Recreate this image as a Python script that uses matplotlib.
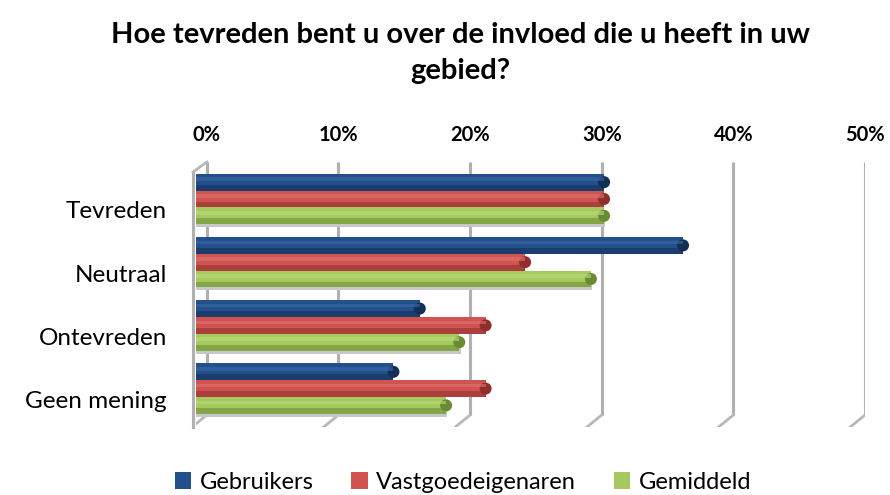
import matplotlib
matplotlib.use("Agg")
import matplotlib.pyplot as plt
from matplotlib.patches import Patch
import numpy as np

categories = ["Tevreden", "Neutraal", "Ontevreden", "Geen mening"]
series_names = ["Gebruikers", "Vastgoedeigenaren", "Gemiddeld"]
gebruikers = [31, 37, 17, 15]
vastgoedeigenaren = [31, 25, 22, 22]
gemiddeld = [31, 30, 20, 19]
tick_values = [0, 10, 20, 30, 40, 50]
tick_labels = ["0%", "10%", "20%", "30%", "40%", "50%"]
title = "Hoe tevreden bent u over de invloed die u heeft in uw\ngebied?"

colors = ["#23508C", "#D0534F", "#A5C95E"]
dark = ["#142f55", "#8e2f2c", "#6a8a34"]
light = ["#3a68a6", "#e07470", "#bcdc7c"]

FONT = "Lato"
W, H = 890, 495
fig = plt.figure(figsize=(W / 100, H / 100), dpi=100)

# pixel geometry
x0_px, x50_px = 196, 865
top_px, bot_px = 162, 427
c0_px, step_px = 199, 63.2
ax = fig.add_axes([x0_px / W, 1 - bot_px / H, (x50_px - x0_px) / W, (bot_px - top_px) / H])
ax.set_xlim(0, 50)
ylo = -(c0_px - top_px) / step_px
yhi = 3 + (bot_px - (c0_px + 3 * step_px)) / step_px
ax.set_ylim(yhi, ylo)
for s in ax.spines.values():
    s.set_visible(False)

px_x = 50 / (x50_px - x0_px)
px_y = 1 / step_px
depth = 11 * px_x

# back gridlines with floor foot
g_bot = 3 + (415 - (c0_px + 3 * step_px)) / step_px
for v in tick_values:
    xb = v + depth
    ax.plot([xb, xb], [ylo, g_bot], color="#b0b0b0", lw=2.2, solid_capstyle="butt", zorder=1)
    ax.plot([xb, xb - 15 * px_x], [g_bot, g_bot + 12 * px_y], color="#b8b8b8", lw=2.0, zorder=1)
# left wall
wx = -3 * px_x
ax.plot([wx, wx], [ylo + 10 * px_y, yhi], color="#b0b0b0", lw=2.2, zorder=1, clip_on=False)
ax.plot([wx, depth], [ylo + 10 * px_y, ylo], color="#b8b8b8", lw=2.0, zorder=1, clip_on=False)

# bars
bh = 16.8 * px_y
ypos = np.arange(len(categories))
offsets = [-bh, 0, bh]
for k, vals in enumerate([gebruikers, vastgoedeigenaren, gemiddeld]):
    yy = ypos + offsets[k]
    if k == 2:
        ax.barh(yy + 3 * px_y, np.array(vals) + 0.1, height=bh, left=0.0, color="#c8c8c8", zorder=2)
    ax.barh(yy, vals, height=bh, color=colors[k], zorder=3, edgecolor="none")
    ax.barh(yy + bh * 0.33, vals, height=bh * 0.34, color=dark[k], alpha=0.55, zorder=4, edgecolor="none")
    ax.barh(yy - bh * 0.18, vals, height=bh * 0.22, color=light[k], alpha=0.6, zorder=4, edgecolor="none")
    ax.scatter(vals, yy, s=75, marker="o", color=dark[k], zorder=3.5, edgecolors="none")

# ticks
ax.xaxis.tick_top()
ax.set_xticks([v + depth for v in tick_values])
ax.set_xticklabels(tick_labels, fontsize=14.5, fontweight="bold", family=FONT)
ax.tick_params(axis="x", length=0, pad=12)
ax.set_yticks(ypos + 11 * px_y)
ax.set_yticklabels(categories, fontsize=17.5, family=FONT)
ax.tick_params(axis="y", length=0, pad=21)

fig.text(0.517, 0.955, title, ha="center", va="top", fontsize=21, fontweight="bold",
         family=FONT, linespacing=1.45)

handles = [Patch(facecolor=colors[k], edgecolor="none") for k in range(3)]
fig.legend(handles, series_names, loc="center", bbox_to_anchor=(0.52, 0.026), ncol=3,
           frameon=False, prop={"family": FONT, "size": 17}, handlelength=0.7, handleheight=0.7,
           handletextpad=0.35, columnspacing=1.6)

fig.savefig("out.png", dpi=100)
